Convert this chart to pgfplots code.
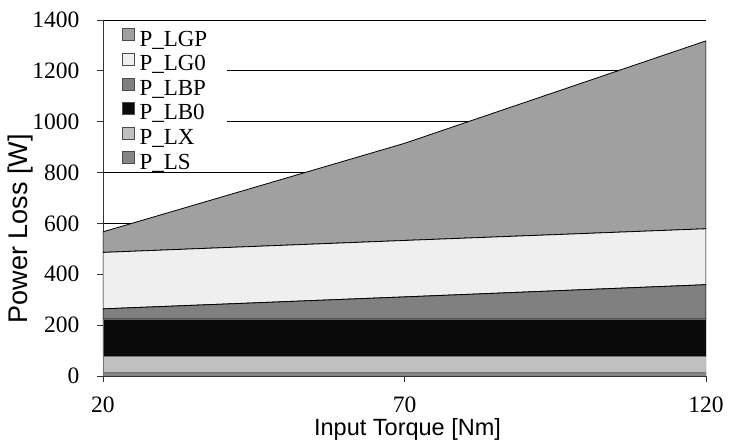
\documentclass[border=0pt]{standalone}
\usepackage{pgfplots}
\pgfplotsset{compat=1.18}
\usepackage{fontspec}
\setmainfont{Liberation Serif}
\newfontfamily\arialfont{Liberation Sans}
\definecolor{cLGP}{HTML}{A0A0A0}
\definecolor{cLG0}{HTML}{EFEFEF}
\definecolor{cLBP}{HTML}{808080}
\definecolor{cLB0}{HTML}{0A0A0A}
\definecolor{cLX}{HTML}{C0C0C0}
\definecolor{cLS}{HTML}{858585}
\begin{document}
\begin{tikzpicture}
\path[use as bounding box] (-103pt,-68pt) rectangle (633pt,376pt);
\begin{axis}[
  at={(0,0)}, anchor=south west,
  scale only axis, width=603pt, height=356pt,
  xmin=20, xmax=120, ymin=0, ymax=1400,
  xtick={20,70,120}, ytick={0,200,...,1400},
  axis x line*=bottom, axis y line*=left,
  axis line style={black!80, line width=0.8pt, -},
  tick align=outside, major tick length=6pt,
  tick style={black!80, line width=0.8pt},
  ymajorgrids, grid style={black, line width=0.8pt},
  /pgf/number format/assume math mode=true,
  /pgf/number format/1000 sep={},
  ticklabel style={font=\fontsize{23.5}{27}\selectfont},
  yticklabel shift=14pt,
  xticklabel style={anchor=base, yshift=-30pt},
  xlabel={Input Torque [Nm]},
  ylabel={Power Loss [W]},
  xlabel style={font=\arialfont\fontsize{23.5}{27}\selectfont, at={(axis description cs:0.505,-0.1685)}, anchor=base},
  ylabel style={font=\arialfont\fontsize{27}{31}\selectfont, at={(axis description cs:-0.1376,0.413)}, anchor=center},
  stack plots=y,
  area legend,
  legend image code/.code={\draw[#1, draw=black!70, line width=0.6pt] (0pt,-4pt) rectangle (12pt,8pt);},
  reverse legend,
  legend cell align=left,
  legend style={at={(0.002,0.988)}, anchor=north west, draw=none, fill=white,
    font=\fontsize{23}{26}\selectfont, row sep=0pt,
    nodes={inner sep=1.5pt, text height=20.1pt, text depth=1.5pt},
    /tikz/every odd column/.style={column sep=3pt},
    inner xsep=18pt, inner ysep=0pt},
]
\addplot[fill=cLS, draw=black!55, line width=0.8pt] coordinates {(20,15) (70,15) (120,15)} \closedcycle;
\addlegendentry{P\_LS}
\addplot[fill=cLX, draw=black!55, line width=0.8pt] coordinates {(20,62) (70,62) (120,62)} \closedcycle;
\addlegendentry{P\_LX}
\addplot[fill=cLB0, draw=black!60, line width=0.8pt] coordinates {(20,147) (70,147) (120,147)} \closedcycle;
\addlegendentry{P\_LB0}
\addplot[fill=cLBP, draw=black, line width=0.8pt] coordinates {(20,40) (70,87) (120,135)} \closedcycle;
\addlegendentry{P\_LBP}
\addplot[fill=cLG0, draw=black, line width=0.8pt] coordinates {(20,222) (70,222) (120,220)} \closedcycle;
\addlegendentry{P\_LG0}
\addplot[fill=cLGP, draw=black, line width=0.8pt] coordinates {(20,81) (70,382) (120,739)} \closedcycle;
\addlegendentry{P\_LGP}
\end{axis}
\end{tikzpicture}
\end{document}
